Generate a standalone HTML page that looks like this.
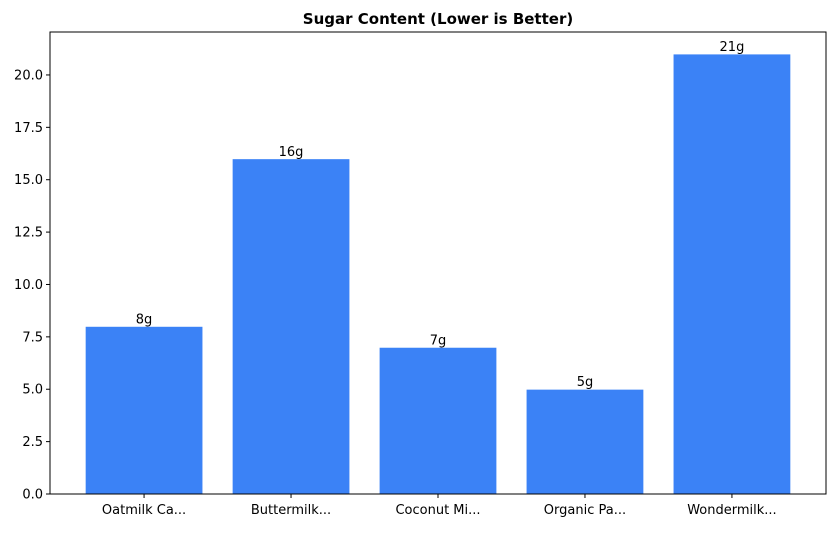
<!DOCTYPE html>
<html><head><meta charset="utf-8"><style>
body{margin:0;background:#fff;font-family:"Liberation Sans","DejaVu Sans",sans-serif}
svg text{font-family:"DejaVu Sans","Liberation Sans",sans-serif}
</style></head><body>
<svg id="chart" width="835" height="528"></svg>
<script>
const categories=["Oatmilk Ca...","Buttermilk...","Coconut Mi...","Organic Pa...","Wondermilk..."];
const values=[8,16,7,5,21];
const valueLabels=["8g","16g","7g","5g","21g"];
const yTicks=[0,2.5,5,7.5,10,12.5,15,17.5,20];
const NS="http://www.w3.org/2000/svg";
const svg=document.getElementById('chart');
const L=50,R=826,T=32,B=494;
const xMin=-0.64,xMax=categories.length-1+0.64;
const yMax=22.05;
const xs=i=>L+(i-xMin)/(xMax-xMin)*(R-L);
const ys=v=>B-v/yMax*(B-T);
const bw=0.8*(R-L)/(xMax-xMin);
function mk(t,a){const e=document.createElementNS(NS,t);for(const k in a)e.setAttribute(k,a[k]);svg.appendChild(e);return e;}
const title=mk('text',{x:(L+R)/2,y:24,'text-anchor':'middle','font-size':15,'font-weight':'bold'});
title.textContent="Sugar Content (Lower is Better)";


values.forEach((v,i)=>{
 const r=mk('rect',{x:xs(i)-bw/2,y:ys(v),width:bw,height:B-ys(v),fill:'#3b82f6',stroke:'#ffffff','stroke-width':0.8});
 
 
 const t=mk('text',{x:xs(i),y:ys(v)-3,'text-anchor':'middle','font-size':13});
 t.textContent=valueLabels[i];
 
 
 mk('line',{x1:xs(i),x2:xs(i),y1:B,y2:B+4,stroke:'#000'});
 const c=mk('text',{x:xs(i),y:B+20,'text-anchor':'middle','font-size':13});
 c.textContent=categories[i];
 
 
});
yTicks.forEach(v=>{
 mk('line',{x1:L-4,x2:L,y1:ys(v),y2:ys(v),stroke:'#000'});
 const t=mk('text',{x:L-7,y:ys(v)+4.5,'text-anchor':'end','font-size':13});
 t.textContent=v.toFixed(1);
 
 
});
const f=mk('rect',{x:L,y:T,width:R-L,height:B-T,fill:'none',stroke:'#000','stroke-width':1});


</script>
</body></html>
